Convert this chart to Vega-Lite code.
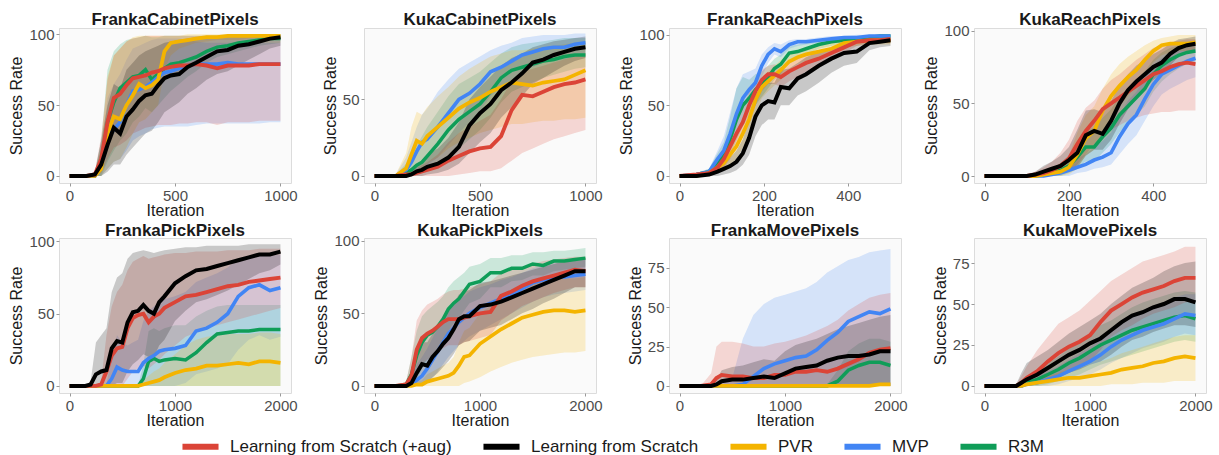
{
"$schema":"https://vega.github.io/schema/vega-lite/v6.json",
"padding":{"left":8,"top":10,"right":5,"bottom":0},
"background":"white",
"datasets":{
"FC":[
{"s":"G","x":0,"y":0,"l":0,"h":0},{"s":"G","x":80,"y":0,"l":0,"h":0},{"s":"G","x":120,"y":0,"l":0,"h":2},{"s":"G","x":150,"y":8,"l":0,"h":25},{"s":"G","x":180,"y":38,"l":10,"h":75},{"s":"G","x":210,"y":52,"l":18,"h":88},{"s":"G","x":240,"y":62,"l":25,"h":93},{"s":"G","x":270,"y":66,"l":30,"h":96},{"s":"G","x":300,"y":70,"l":38,"h":97},{"s":"G","x":330,"y":71,"l":42,"h":98},{"s":"G","x":360,"y":75,"l":48,"h":99},{"s":"G","x":390,"y":68,"l":45,"h":98},{"s":"G","x":420,"y":72,"l":50,"h":98},{"s":"G","x":450,"y":76,"l":55,"h":99},{"s":"G","x":480,"y":79,"l":60,"h":99},{"s":"G","x":520,"y":80,"l":65,"h":99},{"s":"G","x":560,"y":82,"l":70,"h":99},{"s":"G","x":600,"y":84,"l":74,"h":99},{"s":"G","x":650,"y":88,"l":80,"h":99},{"s":"G","x":700,"y":91,"l":84,"h":99},{"s":"G","x":750,"y":92,"l":86,"h":99},{"s":"G","x":800,"y":94,"l":88,"h":100},{"s":"G","x":850,"y":95,"l":90,"h":100},{"s":"G","x":900,"y":96,"l":92,"h":100},{"s":"G","x":950,"y":97,"l":93,"h":100},{"s":"G","x":1000,"y":97,"l":94,"h":100},
{"s":"B","x":0,"y":0,"l":0,"h":0},{"s":"B","x":80,"y":0,"l":0,"h":0},{"s":"B","x":120,"y":0,"l":0,"h":2},{"s":"B","x":150,"y":6,"l":0,"h":18},{"s":"B","x":180,"y":25,"l":5,"h":55},{"s":"B","x":210,"y":33,"l":10,"h":65},{"s":"B","x":240,"y":38,"l":12,"h":72},{"s":"B","x":270,"y":50,"l":18,"h":82},{"s":"B","x":300,"y":60,"l":25,"h":90},{"s":"B","x":330,"y":61,"l":28,"h":92},{"s":"B","x":360,"y":63,"l":30,"h":94},{"s":"B","x":390,"y":66,"l":33,"h":96},{"s":"B","x":420,"y":70,"l":34,"h":97},{"s":"B","x":450,"y":73,"l":35,"h":97},{"s":"B","x":480,"y":74,"l":35,"h":97},{"s":"B","x":520,"y":76,"l":35,"h":97},{"s":"B","x":560,"y":78,"l":35,"h":96},{"s":"B","x":600,"y":79,"l":36,"h":95},{"s":"B","x":650,"y":79,"l":37,"h":94},{"s":"B","x":700,"y":79,"l":37,"h":94},{"s":"B","x":750,"y":80,"l":37,"h":94},{"s":"B","x":800,"y":79,"l":37,"h":94},{"s":"B","x":850,"y":79,"l":37,"h":94},{"s":"B","x":900,"y":79,"l":37,"h":94},{"s":"B","x":950,"y":79,"l":38,"h":94},{"s":"B","x":1000,"y":79,"l":38,"h":94},
{"s":"Y","x":0,"y":0,"l":0,"h":0},{"s":"Y","x":80,"y":0,"l":0,"h":0},{"s":"Y","x":120,"y":0,"l":0,"h":2},{"s":"Y","x":150,"y":5,"l":0,"h":20},{"s":"Y","x":180,"y":30,"l":5,"h":70},{"s":"Y","x":210,"y":42,"l":10,"h":85},{"s":"Y","x":240,"y":40,"l":12,"h":90},{"s":"Y","x":270,"y":50,"l":20,"h":95},{"s":"Y","x":300,"y":57,"l":30,"h":98},{"s":"Y","x":330,"y":65,"l":38,"h":99},{"s":"Y","x":360,"y":62,"l":40,"h":99},{"s":"Y","x":390,"y":64,"l":45,"h":99},{"s":"Y","x":420,"y":68,"l":50,"h":99},{"s":"Y","x":450,"y":88,"l":75,"h":99},{"s":"Y","x":480,"y":94,"l":85,"h":99},{"s":"Y","x":520,"y":95,"l":90,"h":99},{"s":"Y","x":560,"y":96,"l":92,"h":100},{"s":"Y","x":600,"y":97,"l":94,"h":100},{"s":"Y","x":650,"y":98,"l":95,"h":100},{"s":"Y","x":700,"y":98,"l":96,"h":100},{"s":"Y","x":750,"y":99,"l":96,"h":100},{"s":"Y","x":800,"y":99,"l":96,"h":100},{"s":"Y","x":850,"y":99,"l":97,"h":100},{"s":"Y","x":900,"y":99,"l":97,"h":100},{"s":"Y","x":950,"y":99,"l":97,"h":100},{"s":"Y","x":1000,"y":99,"l":97,"h":100},
{"s":"R","x":0,"y":0,"l":0,"h":0},{"s":"R","x":80,"y":0,"l":0,"h":0},{"s":"R","x":120,"y":1,"l":0,"h":3},{"s":"R","x":150,"y":12,"l":2,"h":28},{"s":"R","x":180,"y":38,"l":12,"h":68},{"s":"R","x":210,"y":55,"l":20,"h":85},{"s":"R","x":240,"y":58,"l":22,"h":90},{"s":"R","x":270,"y":64,"l":25,"h":95},{"s":"R","x":300,"y":69,"l":30,"h":97},{"s":"R","x":330,"y":70,"l":32,"h":98},{"s":"R","x":360,"y":71,"l":34,"h":99},{"s":"R","x":390,"y":73,"l":35,"h":99},{"s":"R","x":420,"y":74,"l":36,"h":99},{"s":"R","x":450,"y":76,"l":36,"h":99},{"s":"R","x":480,"y":77,"l":36,"h":99},{"s":"R","x":520,"y":78,"l":37,"h":99},{"s":"R","x":560,"y":78,"l":37,"h":99},{"s":"R","x":600,"y":79,"l":38,"h":99},{"s":"R","x":650,"y":78,"l":38,"h":99},{"s":"R","x":700,"y":76,"l":36,"h":99},{"s":"R","x":750,"y":78,"l":38,"h":99},{"s":"R","x":800,"y":78,"l":38,"h":99},{"s":"R","x":850,"y":78,"l":38,"h":99},{"s":"R","x":900,"y":79,"l":39,"h":99},{"s":"R","x":950,"y":79,"l":39,"h":99},{"s":"R","x":1000,"y":79,"l":39,"h":99},
{"s":"K","x":0,"y":0,"l":0,"h":0},{"s":"K","x":80,"y":0,"l":0,"h":0},{"s":"K","x":120,"y":1,"l":0,"h":3},{"s":"K","x":150,"y":8,"l":0,"h":25},{"s":"K","x":180,"y":22,"l":3,"h":50},{"s":"K","x":210,"y":34,"l":8,"h":65},{"s":"K","x":240,"y":30,"l":8,"h":62},{"s":"K","x":270,"y":42,"l":15,"h":75},{"s":"K","x":300,"y":47,"l":20,"h":80},{"s":"K","x":330,"y":53,"l":25,"h":85},{"s":"K","x":360,"y":57,"l":30,"h":88},{"s":"K","x":390,"y":58,"l":32,"h":90},{"s":"K","x":420,"y":64,"l":38,"h":92},{"s":"K","x":450,"y":69,"l":45,"h":94},{"s":"K","x":480,"y":71,"l":48,"h":95},{"s":"K","x":520,"y":72,"l":52,"h":96},{"s":"K","x":560,"y":77,"l":58,"h":97},{"s":"K","x":600,"y":80,"l":62,"h":98},{"s":"K","x":650,"y":84,"l":68,"h":99},{"s":"K","x":700,"y":88,"l":72,"h":99},{"s":"K","x":750,"y":89,"l":74,"h":99},{"s":"K","x":800,"y":92,"l":78,"h":99},{"s":"K","x":850,"y":93,"l":82,"h":100},{"s":"K","x":900,"y":95,"l":86,"h":100},{"s":"K","x":950,"y":97,"l":90,"h":100},{"s":"K","x":1000,"y":98,"l":92,"h":100}
],
"KC":[
{"s":"G","x":0,"y":0,"l":0,"h":0},{"s":"G","x":100,"y":0,"l":0,"h":1},{"s":"G","x":150,"y":2,"l":0,"h":8},{"s":"G","x":175,"y":4,"l":0,"h":14},{"s":"G","x":200,"y":7,"l":1,"h":20},{"s":"G","x":225,"y":9,"l":2,"h":26},{"s":"G","x":250,"y":13,"l":4,"h":32},{"s":"G","x":300,"y":21,"l":8,"h":42},{"s":"G","x":350,"y":30,"l":12,"h":52},{"s":"G","x":400,"y":37,"l":18,"h":60},{"s":"G","x":450,"y":42,"l":24,"h":64},{"s":"G","x":500,"y":47,"l":30,"h":68},{"s":"G","x":550,"y":55,"l":38,"h":74},{"s":"G","x":600,"y":64,"l":48,"h":80},{"s":"G","x":650,"y":69,"l":55,"h":84},{"s":"G","x":700,"y":71,"l":58,"h":86},{"s":"G","x":750,"y":73,"l":61,"h":87},{"s":"G","x":800,"y":75,"l":64,"h":88},{"s":"G","x":850,"y":76,"l":66,"h":89},{"s":"G","x":900,"y":78,"l":68,"h":90},{"s":"G","x":950,"y":79,"l":70,"h":90},{"s":"G","x":1000,"y":79,"l":71,"h":90},
{"s":"B","x":0,"y":0,"l":0,"h":0},{"s":"B","x":100,"y":0,"l":0,"h":1},{"s":"B","x":150,"y":4,"l":0,"h":12},{"s":"B","x":175,"y":9,"l":1,"h":22},{"s":"B","x":200,"y":16,"l":3,"h":32},{"s":"B","x":225,"y":22,"l":5,"h":40},{"s":"B","x":250,"y":24,"l":7,"h":44},{"s":"B","x":300,"y":32,"l":12,"h":55},{"s":"B","x":350,"y":41,"l":20,"h":63},{"s":"B","x":400,"y":50,"l":28,"h":70},{"s":"B","x":450,"y":54,"l":35,"h":74},{"s":"B","x":500,"y":60,"l":42,"h":78},{"s":"B","x":550,"y":68,"l":52,"h":82},{"s":"B","x":600,"y":71,"l":58,"h":85},{"s":"B","x":650,"y":75,"l":63,"h":87},{"s":"B","x":700,"y":79,"l":68,"h":90},{"s":"B","x":750,"y":81,"l":71,"h":91},{"s":"B","x":800,"y":83,"l":74,"h":92},{"s":"B","x":850,"y":84,"l":75,"h":92},{"s":"B","x":900,"y":84,"l":76,"h":92},{"s":"B","x":950,"y":86,"l":78,"h":93},{"s":"B","x":1000,"y":87,"l":80,"h":93},
{"s":"Y","x":0,"y":0,"l":0,"h":0},{"s":"Y","x":100,"y":0,"l":0,"h":1},{"s":"Y","x":150,"y":5,"l":0,"h":15},{"s":"Y","x":175,"y":14,"l":2,"h":32},{"s":"Y","x":200,"y":23,"l":5,"h":42},{"s":"Y","x":225,"y":21,"l":5,"h":40},{"s":"Y","x":250,"y":26,"l":8,"h":45},{"s":"Y","x":300,"y":32,"l":12,"h":52},{"s":"Y","x":350,"y":38,"l":18,"h":58},{"s":"Y","x":400,"y":44,"l":22,"h":65},{"s":"Y","x":450,"y":48,"l":25,"h":70},{"s":"Y","x":500,"y":51,"l":28,"h":74},{"s":"Y","x":550,"y":55,"l":30,"h":78},{"s":"Y","x":600,"y":58,"l":32,"h":80},{"s":"Y","x":650,"y":61,"l":34,"h":82},{"s":"Y","x":700,"y":60,"l":34,"h":82},{"s":"Y","x":750,"y":59,"l":35,"h":83},{"s":"Y","x":800,"y":61,"l":36,"h":84},{"s":"Y","x":850,"y":62,"l":36,"h":85},{"s":"Y","x":900,"y":63,"l":37,"h":86},{"s":"Y","x":950,"y":66,"l":37,"h":87},{"s":"Y","x":1000,"y":69,"l":38,"h":88},
{"s":"R","x":0,"y":0,"l":0,"h":0},{"s":"R","x":100,"y":0,"l":0,"h":1},{"s":"R","x":150,"y":1,"l":0,"h":3},{"s":"R","x":175,"y":1,"l":0,"h":4},{"s":"R","x":200,"y":2,"l":0,"h":5},{"s":"R","x":225,"y":3,"l":0,"h":7},{"s":"R","x":250,"y":4,"l":0,"h":9},{"s":"R","x":300,"y":6,"l":0,"h":14},{"s":"R","x":350,"y":10,"l":0,"h":22},{"s":"R","x":400,"y":13,"l":1,"h":28},{"s":"R","x":450,"y":16,"l":2,"h":32},{"s":"R","x":500,"y":18,"l":3,"h":36},{"s":"R","x":550,"y":19,"l":3,"h":40},{"s":"R","x":600,"y":26,"l":5,"h":50},{"s":"R","x":650,"y":43,"l":10,"h":62},{"s":"R","x":700,"y":53,"l":15,"h":68},{"s":"R","x":750,"y":52,"l":18,"h":70},{"s":"R","x":800,"y":55,"l":21,"h":72},{"s":"R","x":850,"y":58,"l":24,"h":74},{"s":"R","x":900,"y":60,"l":26,"h":76},{"s":"R","x":950,"y":61,"l":28,"h":78},{"s":"R","x":1000,"y":63,"l":30,"h":80},
{"s":"K","x":0,"y":0,"l":0,"h":0},{"s":"K","x":100,"y":0,"l":0,"h":1},{"s":"K","x":150,"y":0,"l":0,"h":3},{"s":"K","x":175,"y":1,"l":0,"h":5},{"s":"K","x":200,"y":3,"l":0,"h":8},{"s":"K","x":225,"y":4,"l":0,"h":10},{"s":"K","x":250,"y":6,"l":1,"h":14},{"s":"K","x":300,"y":8,"l":2,"h":18},{"s":"K","x":350,"y":12,"l":4,"h":25},{"s":"K","x":400,"y":19,"l":8,"h":35},{"s":"K","x":450,"y":33,"l":15,"h":50},{"s":"K","x":500,"y":41,"l":22,"h":58},{"s":"K","x":550,"y":47,"l":28,"h":65},{"s":"K","x":600,"y":56,"l":38,"h":72},{"s":"K","x":650,"y":61,"l":45,"h":77},{"s":"K","x":700,"y":67,"l":52,"h":80},{"s":"K","x":750,"y":74,"l":60,"h":84},{"s":"K","x":800,"y":76,"l":64,"h":86},{"s":"K","x":850,"y":79,"l":68,"h":88},{"s":"K","x":900,"y":81,"l":72,"h":89},{"s":"K","x":950,"y":83,"l":75,"h":90},{"s":"K","x":1000,"y":84,"l":77,"h":91}
],
"FR":[
{"s":"G","x":0,"y":0,"l":0,"h":0},{"s":"G","x":40,"y":1,"l":0,"h":2},{"s":"G","x":70,"y":3,"l":1,"h":5},{"s":"G","x":90,"y":10,"l":5,"h":16},{"s":"G","x":105,"y":15,"l":8,"h":24},{"s":"G","x":120,"y":26,"l":15,"h":42},{"s":"G","x":135,"y":40,"l":25,"h":62},{"s":"G","x":150,"y":50,"l":35,"h":70},{"s":"G","x":165,"y":55,"l":42,"h":68},{"s":"G","x":180,"y":61,"l":50,"h":72},{"s":"G","x":195,"y":65,"l":56,"h":74},{"s":"G","x":210,"y":70,"l":62,"h":78},{"s":"G","x":225,"y":76,"l":68,"h":83},{"s":"G","x":240,"y":79,"l":72,"h":86},{"s":"G","x":260,"y":87,"l":81,"h":92},{"s":"G","x":280,"y":88,"l":83,"h":93},{"s":"G","x":300,"y":90,"l":86,"h":94},{"s":"G","x":330,"y":93,"l":90,"h":96},{"s":"G","x":360,"y":95,"l":92,"h":97},{"s":"G","x":390,"y":96,"l":94,"h":98},{"s":"G","x":420,"y":97,"l":95,"h":99},{"s":"G","x":450,"y":98,"l":96,"h":99},{"s":"G","x":475,"y":99,"l":97,"h":100},{"s":"G","x":500,"y":99,"l":97,"h":100},
{"s":"B","x":0,"y":0,"l":0,"h":0},{"s":"B","x":40,"y":1,"l":0,"h":2},{"s":"B","x":70,"y":3,"l":1,"h":5},{"s":"B","x":90,"y":12,"l":6,"h":18},{"s":"B","x":105,"y":18,"l":10,"h":28},{"s":"B","x":120,"y":30,"l":18,"h":45},{"s":"B","x":135,"y":44,"l":28,"h":62},{"s":"B","x":150,"y":55,"l":38,"h":72},{"s":"B","x":165,"y":61,"l":48,"h":74},{"s":"B","x":180,"y":66,"l":56,"h":76},{"s":"B","x":195,"y":78,"l":70,"h":86},{"s":"B","x":210,"y":86,"l":80,"h":91},{"s":"B","x":225,"y":90,"l":86,"h":94},{"s":"B","x":240,"y":88,"l":84,"h":93},{"s":"B","x":260,"y":93,"l":90,"h":96},{"s":"B","x":280,"y":95,"l":92,"h":97},{"s":"B","x":300,"y":95,"l":93,"h":97},{"s":"B","x":330,"y":96,"l":94,"h":98},{"s":"B","x":360,"y":97,"l":95,"h":99},{"s":"B","x":390,"y":98,"l":96,"h":99},{"s":"B","x":420,"y":98,"l":97,"h":100},{"s":"B","x":450,"y":99,"l":97,"h":100},{"s":"B","x":475,"y":99,"l":98,"h":100},{"s":"B","x":500,"y":99,"l":98,"h":100},
{"s":"Y","x":0,"y":0,"l":0,"h":0},{"s":"Y","x":40,"y":0,"l":0,"h":2},{"s":"Y","x":70,"y":2,"l":0,"h":4},{"s":"Y","x":90,"y":6,"l":2,"h":10},{"s":"Y","x":105,"y":9,"l":4,"h":15},{"s":"Y","x":120,"y":15,"l":8,"h":22},{"s":"Y","x":135,"y":21,"l":12,"h":30},{"s":"Y","x":150,"y":30,"l":20,"h":40},{"s":"Y","x":165,"y":40,"l":30,"h":50},{"s":"Y","x":180,"y":54,"l":44,"h":62},{"s":"Y","x":195,"y":63,"l":55,"h":70},{"s":"Y","x":210,"y":67,"l":60,"h":74},{"s":"Y","x":225,"y":71,"l":64,"h":78},{"s":"Y","x":240,"y":75,"l":68,"h":82},{"s":"Y","x":260,"y":81,"l":75,"h":86},{"s":"Y","x":280,"y":84,"l":79,"h":89},{"s":"Y","x":300,"y":86,"l":81,"h":91},{"s":"Y","x":330,"y":88,"l":84,"h":92},{"s":"Y","x":360,"y":90,"l":86,"h":94},{"s":"Y","x":390,"y":94,"l":91,"h":96},{"s":"Y","x":420,"y":95,"l":92,"h":97},{"s":"Y","x":450,"y":96,"l":93,"h":98},{"s":"Y","x":475,"y":96,"l":93,"h":98},{"s":"Y","x":500,"y":96,"l":93,"h":98},
{"s":"R","x":0,"y":0,"l":0,"h":0},{"s":"R","x":40,"y":1,"l":0,"h":2},{"s":"R","x":70,"y":2,"l":0,"h":4},{"s":"R","x":90,"y":6,"l":2,"h":10},{"s":"R","x":105,"y":12,"l":6,"h":18},{"s":"R","x":120,"y":21,"l":12,"h":30},{"s":"R","x":135,"y":30,"l":20,"h":40},{"s":"R","x":150,"y":38,"l":28,"h":48},{"s":"R","x":165,"y":50,"l":40,"h":60},{"s":"R","x":180,"y":60,"l":50,"h":69},{"s":"R","x":195,"y":68,"l":60,"h":75},{"s":"R","x":210,"y":72,"l":65,"h":78},{"s":"R","x":225,"y":72,"l":65,"h":79},{"s":"R","x":240,"y":70,"l":63,"h":77},{"s":"R","x":260,"y":74,"l":67,"h":80},{"s":"R","x":280,"y":77,"l":70,"h":83},{"s":"R","x":300,"y":80,"l":74,"h":86},{"s":"R","x":330,"y":83,"l":77,"h":88},{"s":"R","x":360,"y":87,"l":82,"h":91},{"s":"R","x":390,"y":91,"l":87,"h":94},{"s":"R","x":420,"y":95,"l":92,"h":97},{"s":"R","x":450,"y":96,"l":94,"h":98},{"s":"R","x":475,"y":96,"l":94,"h":98},{"s":"R","x":500,"y":97,"l":94,"h":98},
{"s":"K","x":0,"y":0,"l":0,"h":0},{"s":"K","x":40,"y":0,"l":0,"h":2},{"s":"K","x":70,"y":1,"l":0,"h":3},{"s":"K","x":90,"y":3,"l":0,"h":6},{"s":"K","x":105,"y":5,"l":1,"h":10},{"s":"K","x":120,"y":7,"l":2,"h":13},{"s":"K","x":135,"y":10,"l":4,"h":18},{"s":"K","x":150,"y":16,"l":8,"h":26},{"s":"K","x":165,"y":27,"l":15,"h":40},{"s":"K","x":180,"y":42,"l":28,"h":56},{"s":"K","x":195,"y":50,"l":36,"h":62},{"s":"K","x":210,"y":53,"l":40,"h":66},{"s":"K","x":225,"y":52,"l":40,"h":66},{"s":"K","x":240,"y":63,"l":50,"h":75},{"s":"K","x":260,"y":62,"l":50,"h":76},{"s":"K","x":280,"y":69,"l":57,"h":80},{"s":"K","x":300,"y":72,"l":60,"h":84},{"s":"K","x":330,"y":78,"l":66,"h":88},{"s":"K","x":360,"y":83,"l":73,"h":91},{"s":"K","x":390,"y":87,"l":78,"h":93},{"s":"K","x":420,"y":88,"l":80,"h":94},{"s":"K","x":450,"y":94,"l":89,"h":97},{"s":"K","x":475,"y":95,"l":91,"h":98},{"s":"K","x":500,"y":96,"l":92,"h":98}
],
"KR":[
{"s":"G","x":0,"y":0,"l":0,"h":0},{"s":"G","x":60,"y":0,"l":0,"h":1},{"s":"G","x":100,"y":0,"l":0,"h":1},{"s":"G","x":120,"y":0,"l":0,"h":2},{"s":"G","x":140,"y":1,"l":0,"h":3},{"s":"G","x":160,"y":2,"l":0,"h":5},{"s":"G","x":180,"y":4,"l":0,"h":9},{"s":"G","x":200,"y":7,"l":2,"h":14},{"s":"G","x":220,"y":13,"l":5,"h":24},{"s":"G","x":240,"y":20,"l":10,"h":32},{"s":"G","x":260,"y":20,"l":10,"h":33},{"s":"G","x":280,"y":27,"l":16,"h":40},{"s":"G","x":300,"y":33,"l":22,"h":46},{"s":"G","x":320,"y":42,"l":30,"h":55},{"s":"G","x":340,"y":48,"l":36,"h":60},{"s":"G","x":360,"y":54,"l":42,"h":66},{"s":"G","x":380,"y":60,"l":48,"h":72},{"s":"G","x":400,"y":70,"l":58,"h":80},{"s":"G","x":420,"y":76,"l":65,"h":85},{"s":"G","x":440,"y":80,"l":70,"h":88},{"s":"G","x":460,"y":83,"l":74,"h":90},{"s":"G","x":480,"y":85,"l":77,"h":92},{"s":"G","x":500,"y":86,"l":79,"h":93},
{"s":"B","x":0,"y":0,"l":0,"h":0},{"s":"B","x":60,"y":0,"l":0,"h":1},{"s":"B","x":100,"y":0,"l":0,"h":1},{"s":"B","x":120,"y":0,"l":0,"h":1},{"s":"B","x":140,"y":0,"l":0,"h":2},{"s":"B","x":160,"y":1,"l":0,"h":3},{"s":"B","x":180,"y":2,"l":0,"h":5},{"s":"B","x":200,"y":4,"l":0,"h":8},{"s":"B","x":220,"y":6,"l":2,"h":12},{"s":"B","x":240,"y":8,"l":3,"h":15},{"s":"B","x":260,"y":11,"l":5,"h":20},{"s":"B","x":280,"y":13,"l":6,"h":24},{"s":"B","x":300,"y":16,"l":8,"h":30},{"s":"B","x":320,"y":27,"l":15,"h":42},{"s":"B","x":340,"y":36,"l":22,"h":52},{"s":"B","x":360,"y":42,"l":28,"h":58},{"s":"B","x":380,"y":53,"l":38,"h":68},{"s":"B","x":400,"y":63,"l":48,"h":76},{"s":"B","x":420,"y":70,"l":56,"h":81},{"s":"B","x":440,"y":73,"l":60,"h":84},{"s":"B","x":460,"y":76,"l":63,"h":87},{"s":"B","x":480,"y":79,"l":66,"h":89},{"s":"B","x":500,"y":81,"l":68,"h":90},
{"s":"Y","x":0,"y":0,"l":0,"h":0},{"s":"Y","x":60,"y":0,"l":0,"h":1},{"s":"Y","x":100,"y":0,"l":0,"h":1},{"s":"Y","x":120,"y":0,"l":0,"h":2},{"s":"Y","x":140,"y":1,"l":0,"h":3},{"s":"Y","x":160,"y":2,"l":0,"h":5},{"s":"Y","x":180,"y":3,"l":0,"h":8},{"s":"Y","x":200,"y":6,"l":1,"h":14},{"s":"Y","x":220,"y":15,"l":5,"h":30},{"s":"Y","x":240,"y":26,"l":14,"h":42},{"s":"Y","x":260,"y":31,"l":18,"h":48},{"s":"Y","x":280,"y":45,"l":30,"h":60},{"s":"Y","x":300,"y":55,"l":40,"h":70},{"s":"Y","x":320,"y":62,"l":48,"h":77},{"s":"Y","x":340,"y":68,"l":55,"h":82},{"s":"Y","x":360,"y":73,"l":62,"h":86},{"s":"Y","x":380,"y":80,"l":70,"h":90},{"s":"Y","x":400,"y":86,"l":78,"h":93},{"s":"Y","x":420,"y":90,"l":83,"h":95},{"s":"Y","x":440,"y":91,"l":85,"h":96},{"s":"Y","x":460,"y":91,"l":86,"h":97},{"s":"Y","x":480,"y":91,"l":86,"h":97},{"s":"Y","x":500,"y":92,"l":87,"h":97},
{"s":"R","x":0,"y":0,"l":0,"h":0},{"s":"R","x":60,"y":0,"l":0,"h":1},{"s":"R","x":100,"y":0,"l":0,"h":1},{"s":"R","x":120,"y":1,"l":0,"h":3},{"s":"R","x":140,"y":2,"l":0,"h":6},{"s":"R","x":160,"y":4,"l":0,"h":10},{"s":"R","x":180,"y":7,"l":1,"h":16},{"s":"R","x":200,"y":12,"l":3,"h":25},{"s":"R","x":220,"y":22,"l":8,"h":38},{"s":"R","x":240,"y":31,"l":15,"h":47},{"s":"R","x":260,"y":38,"l":22,"h":52},{"s":"R","x":280,"y":46,"l":28,"h":60},{"s":"R","x":300,"y":50,"l":32,"h":66},{"s":"R","x":320,"y":54,"l":35,"h":70},{"s":"R","x":340,"y":58,"l":38,"h":75},{"s":"R","x":360,"y":62,"l":40,"h":80},{"s":"R","x":380,"y":66,"l":42,"h":84},{"s":"R","x":400,"y":70,"l":43,"h":88},{"s":"R","x":420,"y":72,"l":44,"h":90},{"s":"R","x":440,"y":75,"l":44,"h":92},{"s":"R","x":460,"y":77,"l":45,"h":93},{"s":"R","x":480,"y":78,"l":45,"h":94},{"s":"R","x":500,"y":77,"l":45,"h":94},
{"s":"K","x":0,"y":0,"l":0,"h":0},{"s":"K","x":60,"y":0,"l":0,"h":1},{"s":"K","x":100,"y":0,"l":0,"h":1},{"s":"K","x":120,"y":1,"l":0,"h":3},{"s":"K","x":140,"y":3,"l":0,"h":7},{"s":"K","x":160,"y":5,"l":1,"h":10},{"s":"K","x":180,"y":7,"l":2,"h":14},{"s":"K","x":200,"y":11,"l":4,"h":20},{"s":"K","x":220,"y":16,"l":6,"h":32},{"s":"K","x":240,"y":28,"l":14,"h":45},{"s":"K","x":260,"y":31,"l":18,"h":46},{"s":"K","x":280,"y":29,"l":18,"h":44},{"s":"K","x":300,"y":38,"l":25,"h":52},{"s":"K","x":320,"y":50,"l":36,"h":62},{"s":"K","x":340,"y":59,"l":46,"h":70},{"s":"K","x":360,"y":65,"l":53,"h":76},{"s":"K","x":380,"y":70,"l":60,"h":80},{"s":"K","x":400,"y":75,"l":66,"h":84},{"s":"K","x":420,"y":78,"l":70,"h":87},{"s":"K","x":440,"y":84,"l":76,"h":91},{"s":"K","x":460,"y":88,"l":82,"h":94},{"s":"K","x":480,"y":90,"l":85,"h":95},{"s":"K","x":500,"y":91,"l":86,"h":96}
],
"FP":[
{"s":"G","x":0,"y":0,"l":0,"h":0},{"s":"G","x":150,"y":0,"l":0,"h":0},{"s":"G","x":200,"y":0,"l":0,"h":0},{"s":"G","x":250,"y":0,"l":0,"h":0},{"s":"G","x":300,"y":0,"l":0,"h":0},{"s":"G","x":350,"y":0,"l":0,"h":0},{"s":"G","x":400,"y":0,"l":0,"h":0},{"s":"G","x":450,"y":0,"l":0,"h":0},{"s":"G","x":500,"y":0,"l":0,"h":0},{"s":"G","x":550,"y":0,"l":0,"h":0},{"s":"G","x":600,"y":0,"l":0,"h":0},{"s":"G","x":650,"y":0,"l":0,"h":0},{"s":"G","x":700,"y":5,"l":0,"h":15},{"s":"G","x":750,"y":17,"l":0,"h":38},{"s":"G","x":800,"y":19,"l":0,"h":40},{"s":"G","x":850,"y":17,"l":0,"h":38},{"s":"G","x":900,"y":18,"l":0,"h":40},{"s":"G","x":1000,"y":19,"l":0,"h":42},{"s":"G","x":1100,"y":18,"l":0,"h":42},{"s":"G","x":1200,"y":23,"l":0,"h":48},{"s":"G","x":1300,"y":30,"l":0,"h":52},{"s":"G","x":1400,"y":36,"l":0,"h":55},{"s":"G","x":1500,"y":37,"l":0,"h":56},{"s":"G","x":1600,"y":38,"l":0,"h":56},{"s":"G","x":1700,"y":38,"l":0,"h":56},{"s":"G","x":1800,"y":39,"l":0,"h":56},{"s":"G","x":1900,"y":39,"l":0,"h":56},{"s":"G","x":2000,"y":39,"l":0,"h":56},
{"s":"B","x":0,"y":0,"l":0,"h":0},{"s":"B","x":150,"y":0,"l":0,"h":0},{"s":"B","x":200,"y":0,"l":0,"h":0},{"s":"B","x":250,"y":0,"l":0,"h":0},{"s":"B","x":300,"y":0,"l":0,"h":0},{"s":"B","x":350,"y":0,"l":0,"h":1},{"s":"B","x":400,"y":5,"l":0,"h":20},{"s":"B","x":450,"y":13,"l":0,"h":35},{"s":"B","x":500,"y":11,"l":0,"h":30},{"s":"B","x":550,"y":10,"l":0,"h":28},{"s":"B","x":600,"y":10,"l":0,"h":30},{"s":"B","x":650,"y":10,"l":0,"h":32},{"s":"B","x":700,"y":16,"l":0,"h":45},{"s":"B","x":750,"y":19,"l":0,"h":52},{"s":"B","x":800,"y":21,"l":0,"h":55},{"s":"B","x":850,"y":24,"l":0,"h":58},{"s":"B","x":900,"y":25,"l":0,"h":60},{"s":"B","x":1000,"y":26,"l":0,"h":62},{"s":"B","x":1100,"y":28,"l":2,"h":65},{"s":"B","x":1200,"y":38,"l":8,"h":72},{"s":"B","x":1300,"y":40,"l":10,"h":75},{"s":"B","x":1400,"y":44,"l":12,"h":78},{"s":"B","x":1500,"y":50,"l":15,"h":82},{"s":"B","x":1600,"y":62,"l":25,"h":88},{"s":"B","x":1700,"y":68,"l":32,"h":90},{"s":"B","x":1800,"y":70,"l":35,"h":91},{"s":"B","x":1900,"y":66,"l":32,"h":90},{"s":"B","x":2000,"y":68,"l":34,"h":91},
{"s":"Y","x":0,"y":0,"l":0,"h":0},{"s":"Y","x":150,"y":0,"l":0,"h":0},{"s":"Y","x":200,"y":0,"l":0,"h":0},{"s":"Y","x":250,"y":0,"l":0,"h":0},{"s":"Y","x":300,"y":0,"l":0,"h":0},{"s":"Y","x":350,"y":0,"l":0,"h":0},{"s":"Y","x":400,"y":0,"l":0,"h":0},{"s":"Y","x":450,"y":0,"l":0,"h":0},{"s":"Y","x":500,"y":0,"l":0,"h":0},{"s":"Y","x":550,"y":0,"l":0,"h":0},{"s":"Y","x":600,"y":0,"l":0,"h":0},{"s":"Y","x":650,"y":0,"l":0,"h":1},{"s":"Y","x":700,"y":1,"l":0,"h":4},{"s":"Y","x":750,"y":2,"l":0,"h":7},{"s":"Y","x":800,"y":3,"l":0,"h":10},{"s":"Y","x":850,"y":4,"l":0,"h":12},{"s":"Y","x":900,"y":6,"l":0,"h":16},{"s":"Y","x":1000,"y":9,"l":0,"h":22},{"s":"Y","x":1100,"y":11,"l":0,"h":28},{"s":"Y","x":1200,"y":12,"l":0,"h":32},{"s":"Y","x":1300,"y":14,"l":0,"h":34},{"s":"Y","x":1400,"y":14,"l":0,"h":35},{"s":"Y","x":1500,"y":15,"l":0,"h":36},{"s":"Y","x":1600,"y":16,"l":0,"h":36},{"s":"Y","x":1700,"y":15,"l":0,"h":36},{"s":"Y","x":1800,"y":17,"l":0,"h":37},{"s":"Y","x":1900,"y":17,"l":0,"h":37},{"s":"Y","x":2000,"y":16,"l":0,"h":36},
{"s":"R","x":0,"y":0,"l":0,"h":0},{"s":"R","x":150,"y":0,"l":0,"h":0},{"s":"R","x":200,"y":0,"l":0,"h":0},{"s":"R","x":250,"y":0,"l":0,"h":0},{"s":"R","x":300,"y":1,"l":0,"h":3},{"s":"R","x":350,"y":10,"l":0,"h":35},{"s":"R","x":400,"y":21,"l":0,"h":55},{"s":"R","x":450,"y":26,"l":0,"h":65},{"s":"R","x":500,"y":27,"l":0,"h":70},{"s":"R","x":550,"y":40,"l":5,"h":80},{"s":"R","x":600,"y":47,"l":10,"h":86},{"s":"R","x":650,"y":49,"l":12,"h":88},{"s":"R","x":700,"y":50,"l":14,"h":90},{"s":"R","x":750,"y":44,"l":12,"h":88},{"s":"R","x":800,"y":48,"l":15,"h":89},{"s":"R","x":850,"y":50,"l":18,"h":90},{"s":"R","x":900,"y":54,"l":22,"h":91},{"s":"R","x":1000,"y":58,"l":28,"h":92},{"s":"R","x":1100,"y":62,"l":34,"h":92},{"s":"R","x":1200,"y":63,"l":37,"h":93},{"s":"R","x":1300,"y":65,"l":40,"h":93},{"s":"R","x":1400,"y":67,"l":42,"h":93},{"s":"R","x":1500,"y":69,"l":44,"h":94},{"s":"R","x":1600,"y":70,"l":46,"h":94},{"s":"R","x":1700,"y":72,"l":48,"h":94},{"s":"R","x":1800,"y":73,"l":50,"h":95},{"s":"R","x":1900,"y":74,"l":52,"h":95},{"s":"R","x":2000,"y":75,"l":54,"h":95},
{"s":"K","x":0,"y":0,"l":0,"h":0},{"s":"K","x":150,"y":0,"l":0,"h":0},{"s":"K","x":200,"y":1,"l":0,"h":3},{"s":"K","x":250,"y":8,"l":0,"h":30},{"s":"K","x":300,"y":10,"l":0,"h":35},{"s":"K","x":350,"y":11,"l":0,"h":40},{"s":"K","x":400,"y":26,"l":0,"h":65},{"s":"K","x":450,"y":31,"l":2,"h":75},{"s":"K","x":500,"y":30,"l":2,"h":78},{"s":"K","x":550,"y":44,"l":10,"h":88},{"s":"K","x":600,"y":51,"l":15,"h":92},{"s":"K","x":650,"y":52,"l":18,"h":93},{"s":"K","x":700,"y":56,"l":22,"h":94},{"s":"K","x":750,"y":52,"l":20,"h":93},{"s":"K","x":800,"y":50,"l":20,"h":92},{"s":"K","x":850,"y":58,"l":28,"h":93},{"s":"K","x":900,"y":62,"l":32,"h":94},{"s":"K","x":1000,"y":71,"l":45,"h":95},{"s":"K","x":1100,"y":76,"l":52,"h":96},{"s":"K","x":1200,"y":80,"l":58,"h":96},{"s":"K","x":1300,"y":81,"l":60,"h":97},{"s":"K","x":1400,"y":83,"l":63,"h":97},{"s":"K","x":1500,"y":85,"l":66,"h":97},{"s":"K","x":1600,"y":87,"l":70,"h":97},{"s":"K","x":1700,"y":89,"l":74,"h":98},{"s":"K","x":1800,"y":91,"l":78,"h":98},{"s":"K","x":1900,"y":91,"l":80,"h":98},{"s":"K","x":2000,"y":93,"l":84,"h":98}
],
"KP":[
{"s":"G","x":0,"y":0,"l":0,"h":0},{"s":"G","x":200,"y":0,"l":0,"h":0},{"s":"G","x":300,"y":1,"l":0,"h":3},{"s":"G","x":350,"y":8,"l":0,"h":20},{"s":"G","x":400,"y":21,"l":5,"h":38},{"s":"G","x":450,"y":30,"l":12,"h":48},{"s":"G","x":500,"y":35,"l":18,"h":52},{"s":"G","x":550,"y":37,"l":20,"h":55},{"s":"G","x":600,"y":41,"l":24,"h":58},{"s":"G","x":650,"y":46,"l":30,"h":62},{"s":"G","x":700,"y":53,"l":38,"h":68},{"s":"G","x":750,"y":57,"l":43,"h":72},{"s":"G","x":800,"y":60,"l":47,"h":75},{"s":"G","x":850,"y":65,"l":52,"h":78},{"s":"G","x":900,"y":70,"l":57,"h":82},{"s":"G","x":1000,"y":72,"l":60,"h":84},{"s":"G","x":1100,"y":78,"l":68,"h":88},{"s":"G","x":1200,"y":78,"l":68,"h":88},{"s":"G","x":1300,"y":81,"l":72,"h":90},{"s":"G","x":1400,"y":81,"l":73,"h":90},{"s":"G","x":1500,"y":84,"l":76,"h":92},{"s":"G","x":1600,"y":83,"l":76,"h":92},{"s":"G","x":1700,"y":86,"l":79,"h":93},{"s":"G","x":1800,"y":86,"l":80,"h":93},{"s":"G","x":1900,"y":87,"l":81,"h":94},{"s":"G","x":2000,"y":88,"l":82,"h":95},
{"s":"B","x":0,"y":0,"l":0,"h":0},{"s":"B","x":200,"y":0,"l":0,"h":0},{"s":"B","x":300,"y":0,"l":0,"h":1},{"s":"B","x":350,"y":1,"l":0,"h":6},{"s":"B","x":400,"y":4,"l":0,"h":15},{"s":"B","x":450,"y":7,"l":0,"h":20},{"s":"B","x":500,"y":12,"l":2,"h":26},{"s":"B","x":550,"y":18,"l":5,"h":33},{"s":"B","x":600,"y":24,"l":10,"h":40},{"s":"B","x":650,"y":30,"l":15,"h":46},{"s":"B","x":700,"y":36,"l":20,"h":52},{"s":"B","x":750,"y":40,"l":24,"h":56},{"s":"B","x":800,"y":44,"l":28,"h":60},{"s":"B","x":850,"y":47,"l":31,"h":62},{"s":"B","x":900,"y":50,"l":34,"h":65},{"s":"B","x":1000,"y":54,"l":38,"h":68},{"s":"B","x":1100,"y":57,"l":42,"h":70},{"s":"B","x":1200,"y":60,"l":46,"h":73},{"s":"B","x":1300,"y":63,"l":50,"h":75},{"s":"B","x":1400,"y":67,"l":54,"h":78},{"s":"B","x":1500,"y":71,"l":58,"h":81},{"s":"B","x":1600,"y":73,"l":61,"h":83},{"s":"B","x":1700,"y":75,"l":63,"h":85},{"s":"B","x":1800,"y":75,"l":64,"h":85},{"s":"B","x":1900,"y":76,"l":65,"h":86},{"s":"B","x":2000,"y":77,"l":66,"h":87},
{"s":"Y","x":0,"y":0,"l":0,"h":0},{"s":"Y","x":200,"y":0,"l":0,"h":0},{"s":"Y","x":300,"y":0,"l":0,"h":0},{"s":"Y","x":350,"y":0,"l":0,"h":1},{"s":"Y","x":400,"y":1,"l":0,"h":3},{"s":"Y","x":450,"y":1,"l":0,"h":4},{"s":"Y","x":500,"y":3,"l":0,"h":8},{"s":"Y","x":550,"y":4,"l":0,"h":10},{"s":"Y","x":600,"y":5,"l":0,"h":12},{"s":"Y","x":650,"y":6,"l":0,"h":14},{"s":"Y","x":700,"y":7,"l":0,"h":16},{"s":"Y","x":750,"y":9,"l":0,"h":20},{"s":"Y","x":800,"y":14,"l":0,"h":30},{"s":"Y","x":850,"y":20,"l":2,"h":38},{"s":"Y","x":900,"y":21,"l":3,"h":40},{"s":"Y","x":1000,"y":29,"l":6,"h":50},{"s":"Y","x":1100,"y":34,"l":10,"h":55},{"s":"Y","x":1200,"y":39,"l":13,"h":60},{"s":"Y","x":1300,"y":43,"l":16,"h":64},{"s":"Y","x":1400,"y":47,"l":18,"h":68},{"s":"Y","x":1500,"y":49,"l":20,"h":70},{"s":"Y","x":1600,"y":51,"l":21,"h":72},{"s":"Y","x":1700,"y":52,"l":22,"h":73},{"s":"Y","x":1800,"y":52,"l":23,"h":74},{"s":"Y","x":1900,"y":51,"l":23,"h":74},{"s":"Y","x":2000,"y":52,"l":24,"h":75},
{"s":"R","x":0,"y":0,"l":0,"h":0},{"s":"R","x":200,"y":0,"l":0,"h":0},{"s":"R","x":300,"y":1,"l":0,"h":3},{"s":"R","x":350,"y":7,"l":0,"h":20},{"s":"R","x":400,"y":25,"l":8,"h":45},{"s":"R","x":450,"y":33,"l":15,"h":52},{"s":"R","x":500,"y":36,"l":18,"h":56},{"s":"R","x":550,"y":38,"l":20,"h":58},{"s":"R","x":600,"y":41,"l":23,"h":60},{"s":"R","x":650,"y":44,"l":26,"h":63},{"s":"R","x":700,"y":46,"l":28,"h":65},{"s":"R","x":750,"y":46,"l":28,"h":66},{"s":"R","x":800,"y":46,"l":28,"h":66},{"s":"R","x":850,"y":47,"l":30,"h":67},{"s":"R","x":900,"y":48,"l":31,"h":68},{"s":"R","x":1000,"y":50,"l":33,"h":70},{"s":"R","x":1100,"y":51,"l":35,"h":72},{"s":"R","x":1200,"y":62,"l":45,"h":78},{"s":"R","x":1300,"y":65,"l":50,"h":80},{"s":"R","x":1400,"y":69,"l":55,"h":82},{"s":"R","x":1500,"y":72,"l":58,"h":84},{"s":"R","x":1600,"y":74,"l":61,"h":86},{"s":"R","x":1700,"y":76,"l":64,"h":87},{"s":"R","x":1800,"y":78,"l":66,"h":88},{"s":"R","x":1900,"y":80,"l":68,"h":89},{"s":"R","x":2000,"y":79,"l":68,"h":89},
{"s":"K","x":0,"y":0,"l":0,"h":0},{"s":"K","x":200,"y":0,"l":0,"h":0},{"s":"K","x":300,"y":0,"l":0,"h":1},{"s":"K","x":350,"y":2,"l":0,"h":8},{"s":"K","x":400,"y":9,"l":0,"h":22},{"s":"K","x":450,"y":15,"l":2,"h":30},{"s":"K","x":500,"y":14,"l":2,"h":30},{"s":"K","x":550,"y":20,"l":6,"h":36},{"s":"K","x":600,"y":24,"l":9,"h":42},{"s":"K","x":650,"y":29,"l":13,"h":47},{"s":"K","x":700,"y":33,"l":17,"h":52},{"s":"K","x":750,"y":39,"l":22,"h":57},{"s":"K","x":800,"y":46,"l":28,"h":63},{"s":"K","x":850,"y":48,"l":30,"h":65},{"s":"K","x":900,"y":48,"l":31,"h":66},{"s":"K","x":1000,"y":55,"l":38,"h":71},{"s":"K","x":1100,"y":56,"l":40,"h":72},{"s":"K","x":1200,"y":58,"l":42,"h":74},{"s":"K","x":1300,"y":61,"l":46,"h":76},{"s":"K","x":1400,"y":64,"l":50,"h":78},{"s":"K","x":1500,"y":67,"l":53,"h":80},{"s":"K","x":1600,"y":70,"l":57,"h":82},{"s":"K","x":1700,"y":73,"l":60,"h":84},{"s":"K","x":1800,"y":76,"l":64,"h":86},{"s":"K","x":1900,"y":79,"l":68,"h":88},{"s":"K","x":2000,"y":79,"l":68,"h":88}
],
"FM":[
{"s":"G","x":0,"y":0,"l":0,"h":0},{"s":"G","x":200,"y":0,"l":0,"h":0},{"s":"G","x":300,"y":0,"l":0,"h":0},{"s":"G","x":350,"y":0,"l":0,"h":0},{"s":"G","x":400,"y":0,"l":0,"h":0},{"s":"G","x":500,"y":0,"l":0,"h":0},{"s":"G","x":600,"y":0,"l":0,"h":0},{"s":"G","x":700,"y":0,"l":0,"h":0},{"s":"G","x":800,"y":0,"l":0,"h":0},{"s":"G","x":900,"y":0,"l":0,"h":0},{"s":"G","x":1000,"y":0,"l":0,"h":0},{"s":"G","x":1100,"y":0,"l":0,"h":0},{"s":"G","x":1200,"y":0,"l":0,"h":0},{"s":"G","x":1300,"y":0,"l":0,"h":0},{"s":"G","x":1400,"y":0,"l":0,"h":1},{"s":"G","x":1500,"y":3,"l":0,"h":10},{"s":"G","x":1600,"y":10,"l":0,"h":22},{"s":"G","x":1700,"y":13,"l":0,"h":27},{"s":"G","x":1800,"y":15,"l":0,"h":30},{"s":"G","x":1900,"y":15,"l":0,"h":30},{"s":"G","x":2000,"y":13,"l":0,"h":28},
{"s":"B","x":0,"y":0,"l":0,"h":0},{"s":"B","x":200,"y":0,"l":0,"h":0},{"s":"B","x":300,"y":0,"l":0,"h":0},{"s":"B","x":350,"y":0,"l":0,"h":0},{"s":"B","x":400,"y":0,"l":0,"h":1},{"s":"B","x":500,"y":0,"l":0,"h":5},{"s":"B","x":600,"y":1,"l":0,"h":30},{"s":"B","x":700,"y":6,"l":0,"h":45},{"s":"B","x":800,"y":11,"l":0,"h":52},{"s":"B","x":900,"y":14,"l":0,"h":56},{"s":"B","x":1000,"y":16,"l":0,"h":58},{"s":"B","x":1100,"y":18,"l":0,"h":60},{"s":"B","x":1200,"y":19,"l":0,"h":62},{"s":"B","x":1300,"y":23,"l":0,"h":66},{"s":"B","x":1400,"y":29,"l":0,"h":72},{"s":"B","x":1500,"y":34,"l":0,"h":76},{"s":"B","x":1600,"y":41,"l":0,"h":80},{"s":"B","x":1700,"y":44,"l":0,"h":82},{"s":"B","x":1800,"y":47,"l":0,"h":85},{"s":"B","x":1900,"y":46,"l":0,"h":86},{"s":"B","x":2000,"y":49,"l":0,"h":87},
{"s":"Y","x":0,"y":0,"l":0,"h":0},{"s":"Y","x":200,"y":0,"l":0,"h":0},{"s":"Y","x":300,"y":0,"l":0,"h":0},{"s":"Y","x":350,"y":0,"l":0,"h":0},{"s":"Y","x":400,"y":0,"l":0,"h":0},{"s":"Y","x":500,"y":0,"l":0,"h":0},{"s":"Y","x":600,"y":0,"l":0,"h":0},{"s":"Y","x":700,"y":0,"l":0,"h":0},{"s":"Y","x":800,"y":0,"l":0,"h":0},{"s":"Y","x":900,"y":0,"l":0,"h":0},{"s":"Y","x":1000,"y":0,"l":0,"h":0},{"s":"Y","x":1100,"y":0,"l":0,"h":0},{"s":"Y","x":1200,"y":0,"l":0,"h":0},{"s":"Y","x":1300,"y":0,"l":0,"h":0},{"s":"Y","x":1400,"y":0,"l":0,"h":0},{"s":"Y","x":1500,"y":0,"l":0,"h":0},{"s":"Y","x":1600,"y":0,"l":0,"h":0},{"s":"Y","x":1700,"y":0,"l":0,"h":1},{"s":"Y","x":1800,"y":0,"l":0,"h":1},{"s":"Y","x":1900,"y":1,"l":0,"h":2},{"s":"Y","x":2000,"y":1,"l":0,"h":2},
{"s":"R","x":0,"y":0,"l":0,"h":0},{"s":"R","x":200,"y":0,"l":0,"h":0},{"s":"R","x":300,"y":1,"l":0,"h":8},{"s":"R","x":350,"y":5,"l":0,"h":25},{"s":"R","x":400,"y":7,"l":0,"h":28},{"s":"R","x":500,"y":6,"l":0,"h":28},{"s":"R","x":600,"y":6,"l":0,"h":27},{"s":"R","x":700,"y":5,"l":0,"h":25},{"s":"R","x":800,"y":5,"l":0,"h":25},{"s":"R","x":900,"y":7,"l":0,"h":27},{"s":"R","x":1000,"y":7,"l":0,"h":28},{"s":"R","x":1100,"y":9,"l":0,"h":30},{"s":"R","x":1200,"y":9,"l":0,"h":32},{"s":"R","x":1300,"y":10,"l":0,"h":35},{"s":"R","x":1400,"y":9,"l":0,"h":38},{"s":"R","x":1500,"y":11,"l":0,"h":42},{"s":"R","x":1600,"y":14,"l":0,"h":48},{"s":"R","x":1700,"y":17,"l":0,"h":52},{"s":"R","x":1800,"y":21,"l":0,"h":56},{"s":"R","x":1900,"y":23,"l":0,"h":58},{"s":"R","x":2000,"y":24,"l":0,"h":59},
{"s":"K","x":0,"y":0,"l":0,"h":0},{"s":"K","x":200,"y":0,"l":0,"h":0},{"s":"K","x":300,"y":0,"l":0,"h":0},{"s":"K","x":350,"y":1,"l":0,"h":4},{"s":"K","x":400,"y":3,"l":0,"h":10},{"s":"K","x":500,"y":4,"l":0,"h":12},{"s":"K","x":600,"y":4,"l":0,"h":13},{"s":"K","x":700,"y":5,"l":0,"h":15},{"s":"K","x":800,"y":6,"l":0,"h":17},{"s":"K","x":900,"y":5,"l":0,"h":16},{"s":"K","x":1000,"y":8,"l":0,"h":22},{"s":"K","x":1100,"y":11,"l":0,"h":26},{"s":"K","x":1200,"y":12,"l":0,"h":28},{"s":"K","x":1300,"y":13,"l":0,"h":30},{"s":"K","x":1400,"y":16,"l":0,"h":33},{"s":"K","x":1500,"y":18,"l":0,"h":36},{"s":"K","x":1600,"y":19,"l":0,"h":38},{"s":"K","x":1700,"y":19,"l":0,"h":40},{"s":"K","x":1800,"y":20,"l":0,"h":42},{"s":"K","x":1900,"y":22,"l":0,"h":44},{"s":"K","x":2000,"y":22,"l":0,"h":45}
],
"KM":[
{"s":"G","x":0,"y":0,"l":0,"h":0},{"s":"G","x":200,"y":0,"l":0,"h":0},{"s":"G","x":300,"y":0,"l":0,"h":0},{"s":"G","x":350,"y":0,"l":0,"h":2},{"s":"G","x":400,"y":2,"l":0,"h":5},{"s":"G","x":500,"y":4,"l":0,"h":10},{"s":"G","x":600,"y":7,"l":1,"h":14},{"s":"G","x":700,"y":10,"l":3,"h":18},{"s":"G","x":800,"y":14,"l":5,"h":23},{"s":"G","x":900,"y":17,"l":7,"h":27},{"s":"G","x":1000,"y":21,"l":10,"h":32},{"s":"G","x":1100,"y":25,"l":13,"h":37},{"s":"G","x":1200,"y":28,"l":15,"h":40},{"s":"G","x":1300,"y":31,"l":17,"h":44},{"s":"G","x":1400,"y":34,"l":19,"h":48},{"s":"G","x":1500,"y":36,"l":21,"h":51},{"s":"G","x":1600,"y":38,"l":23,"h":53},{"s":"G","x":1700,"y":40,"l":25,"h":55},{"s":"G","x":1800,"y":42,"l":27,"h":57},{"s":"G","x":1900,"y":43,"l":28,"h":58},{"s":"G","x":2000,"y":41,"l":27,"h":57},
{"s":"B","x":0,"y":0,"l":0,"h":0},{"s":"B","x":200,"y":0,"l":0,"h":0},{"s":"B","x":300,"y":0,"l":0,"h":0},{"s":"B","x":350,"y":0,"l":0,"h":1},{"s":"B","x":400,"y":1,"l":0,"h":3},{"s":"B","x":500,"y":2,"l":0,"h":6},{"s":"B","x":600,"y":4,"l":0,"h":9},{"s":"B","x":700,"y":6,"l":1,"h":12},{"s":"B","x":800,"y":9,"l":3,"h":16},{"s":"B","x":900,"y":12,"l":5,"h":20},{"s":"B","x":1000,"y":15,"l":7,"h":24},{"s":"B","x":1100,"y":19,"l":10,"h":29},{"s":"B","x":1200,"y":24,"l":14,"h":34},{"s":"B","x":1300,"y":28,"l":17,"h":39},{"s":"B","x":1400,"y":31,"l":20,"h":43},{"s":"B","x":1500,"y":34,"l":23,"h":46},{"s":"B","x":1600,"y":36,"l":25,"h":49},{"s":"B","x":1700,"y":38,"l":27,"h":51},{"s":"B","x":1800,"y":41,"l":30,"h":54},{"s":"B","x":1900,"y":44,"l":32,"h":56},{"s":"B","x":2000,"y":43,"l":31,"h":56},
{"s":"Y","x":0,"y":0,"l":0,"h":0},{"s":"Y","x":200,"y":0,"l":0,"h":0},{"s":"Y","x":300,"y":0,"l":0,"h":0},{"s":"Y","x":350,"y":0,"l":0,"h":1},{"s":"Y","x":400,"y":1,"l":0,"h":2},{"s":"Y","x":500,"y":2,"l":0,"h":4},{"s":"Y","x":600,"y":3,"l":0,"h":6},{"s":"Y","x":700,"y":4,"l":0,"h":8},{"s":"Y","x":800,"y":5,"l":0,"h":10},{"s":"Y","x":900,"y":5,"l":0,"h":11},{"s":"Y","x":1000,"y":6,"l":0,"h":13},{"s":"Y","x":1100,"y":7,"l":0,"h":15},{"s":"Y","x":1200,"y":8,"l":1,"h":17},{"s":"Y","x":1300,"y":10,"l":1,"h":20},{"s":"Y","x":1400,"y":11,"l":1,"h":22},{"s":"Y","x":1500,"y":12,"l":2,"h":24},{"s":"Y","x":1600,"y":14,"l":2,"h":26},{"s":"Y","x":1700,"y":15,"l":2,"h":28},{"s":"Y","x":1800,"y":17,"l":3,"h":30},{"s":"Y","x":1900,"y":18,"l":3,"h":31},{"s":"Y","x":2000,"y":17,"l":3,"h":31},
{"s":"R","x":0,"y":0,"l":0,"h":0},{"s":"R","x":200,"y":0,"l":0,"h":0},{"s":"R","x":300,"y":0,"l":0,"h":1},{"s":"R","x":350,"y":2,"l":0,"h":6},{"s":"R","x":400,"y":5,"l":0,"h":12},{"s":"R","x":500,"y":9,"l":2,"h":22},{"s":"R","x":600,"y":15,"l":4,"h":30},{"s":"R","x":700,"y":20,"l":7,"h":38},{"s":"R","x":800,"y":24,"l":10,"h":42},{"s":"R","x":900,"y":27,"l":12,"h":46},{"s":"R","x":1000,"y":31,"l":15,"h":52},{"s":"R","x":1100,"y":39,"l":22,"h":58},{"s":"R","x":1200,"y":46,"l":30,"h":64},{"s":"R","x":1300,"y":50,"l":34,"h":68},{"s":"R","x":1400,"y":54,"l":37,"h":72},{"s":"R","x":1500,"y":57,"l":41,"h":76},{"s":"R","x":1600,"y":59,"l":44,"h":78},{"s":"R","x":1700,"y":61,"l":46,"h":80},{"s":"R","x":1800,"y":64,"l":48,"h":82},{"s":"R","x":1900,"y":66,"l":51,"h":85},{"s":"R","x":2000,"y":66,"l":52,"h":85},
{"s":"K","x":0,"y":0,"l":0,"h":0},{"s":"K","x":200,"y":0,"l":0,"h":0},{"s":"K","x":300,"y":0,"l":0,"h":1},{"s":"K","x":350,"y":2,"l":0,"h":8},{"s":"K","x":400,"y":4,"l":0,"h":14},{"s":"K","x":500,"y":7,"l":1,"h":18},{"s":"K","x":600,"y":11,"l":3,"h":22},{"s":"K","x":700,"y":15,"l":5,"h":27},{"s":"K","x":800,"y":19,"l":8,"h":32},{"s":"K","x":900,"y":22,"l":10,"h":36},{"s":"K","x":1000,"y":26,"l":13,"h":40},{"s":"K","x":1100,"y":29,"l":15,"h":44},{"s":"K","x":1200,"y":34,"l":19,"h":50},{"s":"K","x":1300,"y":39,"l":24,"h":55},{"s":"K","x":1400,"y":43,"l":28,"h":60},{"s":"K","x":1500,"y":45,"l":30,"h":63},{"s":"K","x":1600,"y":48,"l":33,"h":66},{"s":"K","x":1700,"y":50,"l":35,"h":70},{"s":"K","x":1800,"y":53,"l":37,"h":73},{"s":"K","x":1900,"y":53,"l":37,"h":75},{"s":"K","x":2000,"y":51,"l":36,"h":76}
]
},
"columns":4,
"spacing":{"row":55,"column":73},
"bounds":"flush",
"resolve":{"scale":{"x":"independent","y":"independent","color":"shared","fill":"shared","strokeWidth":"shared"},"axis":{"x":"independent","y":"independent"}},
"concat":[
{"title":{"text":"FrankaCabinetPixels","offset":-2},"data":{"name":"FC"},"width":232,"height":155,"layer":[
{"mark":{"type":"area","opacity":0.2,"clip":true},"encoding":{"x":{"field":"x","type":"quantitative","scale":{"domain":[-50,1050],"nice":false,"zero":false},"axis":{"values":[0,500,1000],"format":"d","title":"Iteration"}},"y":{"field":"l","type":"quantitative","scale":{"domain":[-5,104.5],"nice":false,"zero":false},"axis":{"values":[0,50,100],"title":"Success Rate"}},"y2":{"field":"h"},"fill":{"field":"s","type":"nominal","scale":{"domain":["G","B","Y","K","R"],"range":["#0F9D58","#4285F4","#F4B400","#000000","#DB4437"]},"legend":null}}},
{"mark":{"type":"line","clip":true},"encoding":{"x":{"field":"x","type":"quantitative"},"y":{"field":"y","type":"quantitative"},"color":{"field":"s","type":"nominal","scale":{"domain":["R","K","Y","B","G"],"range":["#DB4437","#000000","#F4B400","#4285F4","#0F9D58"]},"legend":{"title":null,"orient":"none","legendX":120,"legendY":397,"direction":"horizontal","labelExpr":"datum.label=='R'?'Learning from Scratch (+aug)':datum.label=='K'?'Learning from Scratch':datum.label=='Y'?'PVR':datum.label=='B'?'MVP':'R3M'"}},"strokeWidth":{"field":"s","type":"nominal","scale":{"domain":["K","R","Y","B","G"],"range":[4,3.5,2.6,2.6,2.6]},"legend":null}}}]},
{"title":{"text":"KukaCabinetPixels","offset":-0.9},"data":{"name":"KC"},"width":232,"height":155,"layer":[
{"mark":{"type":"area","opacity":0.2,"clip":true},"encoding":{"x":{"field":"x","type":"quantitative","scale":{"domain":[-50,1050],"nice":false,"zero":false},"axis":{"values":[0,500,1000],"format":"d","title":"Iteration"}},"y":{"field":"l","type":"quantitative","scale":{"domain":[-4.6,96.6],"nice":false,"zero":false},"axis":{"values":[0,50],"title":"Success Rate"}},"y2":{"field":"h"},"fill":{"field":"s","type":"nominal","scale":{"domain":["G","B","Y","K","R"],"range":["#0F9D58","#4285F4","#F4B400","#000000","#DB4437"]},"legend":null}}},
{"mark":{"type":"line","clip":true},"encoding":{"x":{"field":"x","type":"quantitative"},"y":{"field":"y","type":"quantitative"},"color":{"field":"s","type":"nominal","scale":{"domain":["R","K","Y","B","G"],"range":["#DB4437","#000000","#F4B400","#4285F4","#0F9D58"]}},"strokeWidth":{"field":"s","type":"nominal","scale":{"domain":["K","R","Y","B","G"],"range":[4,3.5,2.6,2.6,2.6]},"legend":null}}}]},
{"title":{"text":"FrankaReachPixels","offset":-1.8},"data":{"name":"FR"},"width":232,"height":155,"layer":[
{"mark":{"type":"area","opacity":0.2,"clip":true},"encoding":{"x":{"field":"x","type":"quantitative","scale":{"domain":[-25,525],"nice":false,"zero":false},"axis":{"values":[0,200,400],"format":"d","title":"Iteration"}},"y":{"field":"l","type":"quantitative","scale":{"domain":[-5,104.7],"nice":false,"zero":false},"axis":{"values":[0,50,100],"title":"Success Rate"}},"y2":{"field":"h"},"fill":{"field":"s","type":"nominal","scale":{"domain":["G","B","Y","K","R"],"range":["#0F9D58","#4285F4","#F4B400","#000000","#DB4437"]},"legend":null}}},
{"mark":{"type":"line","clip":true},"encoding":{"x":{"field":"x","type":"quantitative"},"y":{"field":"y","type":"quantitative"},"color":{"field":"s","type":"nominal","scale":{"domain":["R","K","Y","B","G"],"range":["#DB4437","#000000","#F4B400","#4285F4","#0F9D58"]}},"strokeWidth":{"field":"s","type":"nominal","scale":{"domain":["K","R","Y","B","G"],"range":[4,3.5,2.6,2.6,2.6]},"legend":null}}}]},
{"title":{"text":"KukaReachPixels","offset":-5.8},"data":{"name":"KR"},"width":232,"height":155,"layer":[
{"mark":{"type":"area","opacity":0.2,"clip":true},"encoding":{"x":{"field":"x","type":"quantitative","scale":{"domain":[-25,525],"nice":false,"zero":false},"axis":{"values":[0,200,400],"format":"d","title":"Iteration"}},"y":{"field":"l","type":"quantitative","scale":{"domain":[-4.8,101.8],"nice":false,"zero":false},"axis":{"values":[0,50,100],"title":"Success Rate"}},"y2":{"field":"h"},"fill":{"field":"s","type":"nominal","scale":{"domain":["G","B","Y","K","R"],"range":["#0F9D58","#4285F4","#F4B400","#000000","#DB4437"]},"legend":null}}},
{"mark":{"type":"line","clip":true},"encoding":{"x":{"field":"x","type":"quantitative"},"y":{"field":"y","type":"quantitative"},"color":{"field":"s","type":"nominal","scale":{"domain":["R","K","Y","B","G"],"range":["#DB4437","#000000","#F4B400","#4285F4","#0F9D58"]}},"strokeWidth":{"field":"s","type":"nominal","scale":{"domain":["K","R","Y","B","G"],"range":[4,3.5,2.6,2.6,2.6]},"legend":null}}}]},
{"title":{"text":"FrankaPickPixels","offset":-5.5},"data":{"name":"FP"},"width":232,"height":155,"layer":[
{"mark":{"type":"area","opacity":0.2,"clip":true},"encoding":{"x":{"field":"x","type":"quantitative","scale":{"domain":[-100,2100],"nice":false,"zero":false},"axis":{"values":[0,1000,2000],"format":"d","title":"Iteration"}},"y":{"field":"l","type":"quantitative","scale":{"domain":[-4.9,102.4],"nice":false,"zero":false},"axis":{"values":[0,50,100],"title":"Success Rate"}},"y2":{"field":"h"},"fill":{"field":"s","type":"nominal","scale":{"domain":["G","B","Y","K","R"],"range":["#0F9D58","#4285F4","#F4B400","#000000","#DB4437"]},"legend":null}}},
{"mark":{"type":"line","clip":true},"encoding":{"x":{"field":"x","type":"quantitative"},"y":{"field":"y","type":"quantitative"},"color":{"field":"s","type":"nominal","scale":{"domain":["R","K","Y","B","G"],"range":["#DB4437","#000000","#F4B400","#4285F4","#0F9D58"]}},"strokeWidth":{"field":"s","type":"nominal","scale":{"domain":["K","R","Y","B","G"],"range":[4,3.5,2.6,2.6,2.6]},"legend":null}}}]},
{"title":{"text":"KukaPickPixels","offset":-6.3},"data":{"name":"KP"},"width":232,"height":155,"layer":[
{"mark":{"type":"area","opacity":0.2,"clip":true},"encoding":{"x":{"field":"x","type":"quantitative","scale":{"domain":[-100,2100],"nice":false,"zero":false},"axis":{"values":[0,1000,2000],"format":"d","title":"Iteration"}},"y":{"field":"l","type":"quantitative","scale":{"domain":[-4.85,101.85],"nice":false,"zero":false},"axis":{"values":[0,50,100],"title":"Success Rate"}},"y2":{"field":"h"},"fill":{"field":"s","type":"nominal","scale":{"domain":["G","B","Y","K","R"],"range":["#0F9D58","#4285F4","#F4B400","#000000","#DB4437"]},"legend":null}}},
{"mark":{"type":"line","clip":true},"encoding":{"x":{"field":"x","type":"quantitative"},"y":{"field":"y","type":"quantitative"},"color":{"field":"s","type":"nominal","scale":{"domain":["R","K","Y","B","G"],"range":["#DB4437","#000000","#F4B400","#4285F4","#0F9D58"]}},"strokeWidth":{"field":"s","type":"nominal","scale":{"domain":["K","R","Y","B","G"],"range":[4,3.5,2.6,2.6,2.6]},"legend":null}}}]},
{"title":{"text":"FrankaMovePixels","offset":-1.5},"data":{"name":"FM"},"width":232,"height":155,"layer":[
{"mark":{"type":"area","opacity":0.2,"clip":true},"encoding":{"x":{"field":"x","type":"quantitative","scale":{"domain":[-100,2100],"nice":false,"zero":false},"axis":{"values":[0,1000,2000],"format":"d","title":"Iteration"}},"y":{"field":"l","type":"quantitative","scale":{"domain":[-4.5,94],"nice":false,"zero":false},"axis":{"values":[0,25,50,75],"title":"Success Rate"}},"y2":{"field":"h"},"fill":{"field":"s","type":"nominal","scale":{"domain":["G","B","Y","K","R"],"range":["#0F9D58","#4285F4","#F4B400","#000000","#DB4437"]},"legend":null}}},
{"mark":{"type":"line","clip":true},"encoding":{"x":{"field":"x","type":"quantitative"},"y":{"field":"y","type":"quantitative"},"color":{"field":"s","type":"nominal","scale":{"domain":["R","K","Y","B","G"],"range":["#DB4437","#000000","#F4B400","#4285F4","#0F9D58"]}},"strokeWidth":{"field":"s","type":"nominal","scale":{"domain":["K","R","Y","B","G"],"range":[4,3.5,2.6,2.6,2.6]},"legend":null}}}]},
{"title":{"text":"KukaMovePixels","offset":-1.5},"data":{"name":"KM"},"width":232,"height":155,"layer":[
{"mark":{"type":"area","opacity":0.2,"clip":true},"encoding":{"x":{"field":"x","type":"quantitative","scale":{"domain":[-100,2100],"nice":false,"zero":false},"axis":{"values":[0,1000,2000],"format":"d","title":"Iteration"}},"y":{"field":"l","type":"quantitative","scale":{"domain":[-4.3,90.3],"nice":false,"zero":false},"axis":{"values":[0,25,50,75],"title":"Success Rate"}},"y2":{"field":"h"},"fill":{"field":"s","type":"nominal","scale":{"domain":["G","B","Y","K","R"],"range":["#0F9D58","#4285F4","#F4B400","#000000","#DB4437"]},"legend":null}}},
{"mark":{"type":"line","clip":true},"encoding":{"x":{"field":"x","type":"quantitative"},"y":{"field":"y","type":"quantitative"},"color":{"field":"s","type":"nominal","scale":{"domain":["R","K","Y","B","G"],"range":["#DB4437","#000000","#F4B400","#4285F4","#0F9D58"]}},"strokeWidth":{"field":"s","type":"nominal","scale":{"domain":["K","R","Y","B","G"],"range":[4,3.5,2.6,2.6,2.6]},"legend":null}}}]}
],
"config":{
"font":"Liberation Sans",
"view":{"fill":"#FAFAFA","stroke":"#DCDCDC","strokeWidth":1},
"axis":{"grid":false,"domain":false,"labelFontSize":15,"labelColor":"#4D4D4D","titleFontSize":16,"titleFontWeight":"normal","titleColor":"#1A1A1A","tickColor":"#999999","tickSize":3,"labelPadding":2},
"axisY":{"titlePadding":4},
"axisX":{"titlePadding":-1},
"title":{"fontSize":17,"fontWeight":"bold","color":"#1A1A1A","anchor":"middle","frame":"group"},
"legend":{"symbolType":"stroke","symbolStrokeWidth":6,"symbolSize":1300,"labelFontSize":17,"labelLimit":400,"labelColor":"#1A1A1A","columnPadding":19,"labelOffset":8,"padding":0}
}
}
